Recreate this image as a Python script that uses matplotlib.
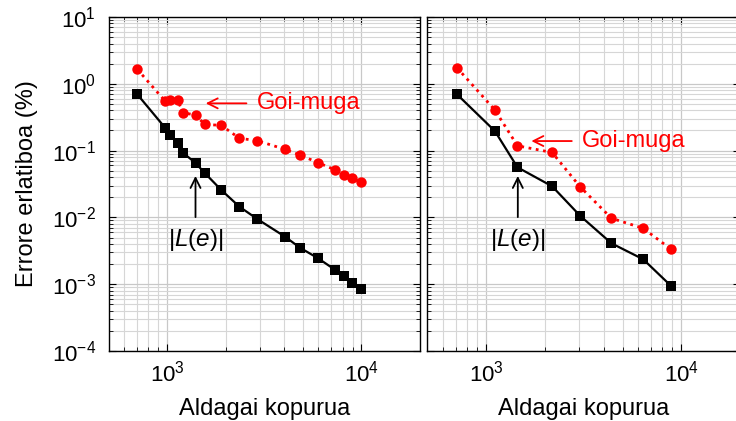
import matplotlib
matplotlib.use("Agg")
import matplotlib.pyplot as plt
from matplotlib.ticker import LogLocator, NullFormatter

plt.rcParams["font.family"] = ["Liberation Sans", "DejaVu Sans"]
plt.rcParams["mathtext.fontset"] = "custom"
plt.rcParams["mathtext.rm"] = "Liberation Sans"
plt.rcParams["mathtext.it"] = "Liberation Sans:italic"
plt.rcParams["mathtext.bf"] = "Liberation Sans:bold"

# left panel
left_n = [703, 977, 1040, 1133, 1207, 1401, 1563, 1901, 2356, 2911,
          4045, 4826, 5986, 7339, 8128, 8971, 9954]
left_err = [0.696, 0.220, 0.171, 0.129, 0.0931, 0.0652, 0.0462, 0.0257, 0.01446,
            0.00946, 0.00514, 0.00352, 0.00244, 0.00163, 0.00133, 0.00105, 0.00084]
left_bound = [1.65, 0.553, 0.572, 0.572, 0.369, 0.341, 0.246, 0.239, 0.153,
              0.1406, 0.1045, 0.0859, 0.0659, 0.0513, 0.0431, 0.0385, 0.0335]

# right panel
right_n = [708, 1108, 1446, 2178, 3027, 4387, 6380, 8870]
right_err = [0.696, 0.196, 0.0562, 0.0292, 0.0106, 0.00409, 0.00236, 0.00094]
right_bound = [1.74, 0.405, 0.118, 0.0937, 0.0288, 0.0097, 0.00687, 0.00333]

W, H = 736, 421
fig = plt.figure(figsize=(W / 100, H / 100), dpi=100)


def px_axes(x0, x1, ytop, ybot):
    return fig.add_axes([x0 / W, (H - ybot) / H, (x1 - x0) / W, (ybot - ytop) / H])


def style(ax, n, err, bound, goi_tip, goi_tail, goi_text_x, le_tip, le_tail, le_text_y):
    ax.set_xscale("log")
    ax.set_yscale("log")
    ax.set_xlim(500, 20000)
    ax.set_ylim(1e-4, 10)
    ax.grid(True, which="major", color="#c8c8c8", linewidth=0.9)
    ax.grid(True, which="minor", color="#d6d6d6", linewidth=0.8)
    ax.set_axisbelow(True)
    ax.xaxis.set_major_locator(LogLocator(base=10, numticks=10))
    ax.xaxis.set_minor_locator(LogLocator(base=10, subs=range(2, 10), numticks=10))
    ax.yaxis.set_major_locator(LogLocator(base=10, numticks=10))
    ax.yaxis.set_minor_locator(LogLocator(base=10, subs=range(2, 10), numticks=10))
    ax.xaxis.set_minor_formatter(NullFormatter())
    ax.yaxis.set_minor_formatter(NullFormatter())
    ax.tick_params(which="both", direction="in", top=True, right=True, labelsize=16)
    ax.tick_params(which="major", length=5, width=0.8)
    ax.tick_params(axis="x", which="major", pad=7)
    ax.tick_params(axis="y", which="major", pad=9)
    ax.tick_params(which="minor", length=3, width=0.6)
    for s in ax.spines.values():
        s.set_linewidth(1.0)

    ax.plot(n, bound, linestyle=":", color="red", linewidth=2.0,
            marker="o", markersize=7.5, markeredgewidth=0)
    ax.plot(n, err, linestyle="-", color="black", linewidth=1.6,
            marker="s", markersize=7.5, markeredgewidth=0)

    ax.annotate("", xy=goi_tip, xytext=goi_tail,
                arrowprops=dict(arrowstyle="->", color="red", lw=1.3,
                                mutation_scale=18, shrinkA=0, shrinkB=0))
    ax.text(goi_text_x, goi_tail[1], "Goi-muga", color="red",
            fontsize=17, va="center", ha="left")
    ax.annotate("", xy=le_tip, xytext=le_tail,
                arrowprops=dict(arrowstyle="->", color="black", lw=1.3,
                                mutation_scale=18, shrinkA=0, shrinkB=0))
    ax.text(le_tail[0], le_text_y, r"$|L(e)|$", color="black",
            fontsize=17.5, va="top", ha="center")
    ax.set_xlabel("Aldagai kopurua", fontsize=17, labelpad=8.5)


ax1 = px_axes(108.5, 420, 17, 351)
style(ax1, left_n, left_err, left_bound,
      goi_tip=(1581, 0.51), goi_tail=(2561, 0.51), goi_text_x=2911,
      le_tip=(1401, 0.0417), le_tail=(1401, 0.0101), le_text_y=0.0072)
ax1.set_ylabel("Errore erlatiboa (%)", fontsize=17, labelpad=10)

ax2 = px_axes(427.5, 740, 17, 351)
style(ax2, right_n, right_err, right_bound,
      goi_tip=(1704, 0.139), goi_tail=(2746, 0.139), goi_text_x=3109,
      le_tip=(1452, 0.0417), le_tail=(1452, 0.0101), le_text_y=0.0072)
ax2.tick_params(labelleft=False)

fig.savefig("out.png", dpi=100)
